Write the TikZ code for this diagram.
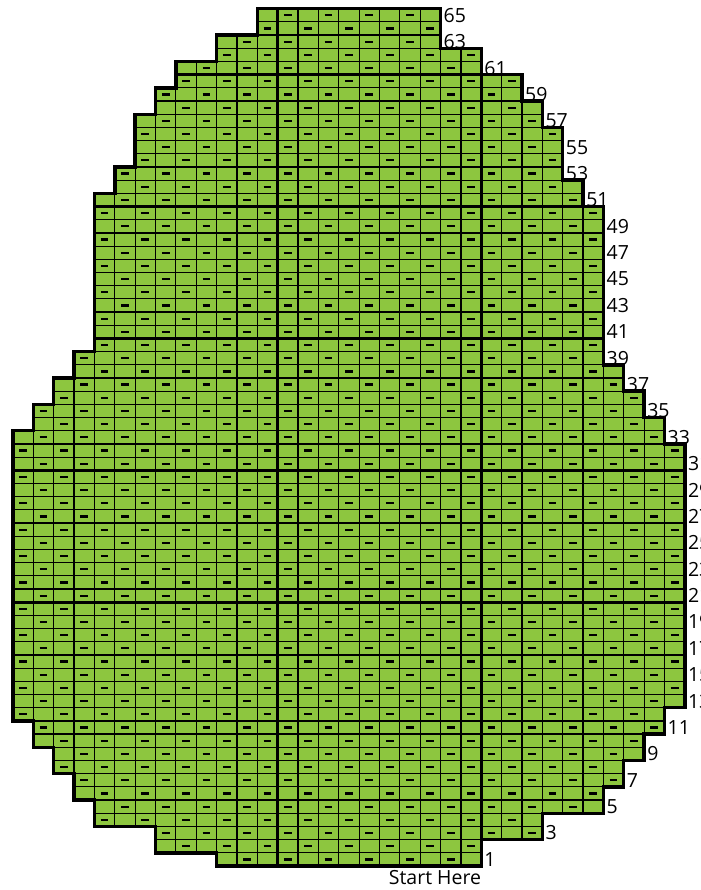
\documentclass[tikz,border=0pt]{standalone}
\usepackage{fontspec}
\setmainfont{Open Sans}
\usepackage{tikz}
\definecolor{chartgreen}{RGB}{141,198,63}
% outline of the chart, one unit = one stitch / one row
\newcommand{\chartshape}{(10,0) -- (23,0) |- (26,2) |- (29,4) |- (30,6)
  |- (31,8) |- (32,10) |- (33,12) |- (32,32) |- (31,34) |- (30,36)
  |- (29,38) |- (28,50) |- (27,52) |- (26,56) |- (25,58) |- (23,60)
  |- (21,62) |- (12,65) |- (10,63) |- (8,61) |- (7,59) |- (6,57)
  |- (5,53) |- (4,51) |- (3,39) |- (2,37) |- (1,35) |- (0,33)
  |- (1,11) |- (2,9) |- (3,7) |- (4,5) |- (7,3) |- (10,1) -- cycle}

\begin{document}
\begin{tikzpicture}[
  x=20.36pt, y=13.19pt,
  cellgrid/.style={line width=1.2pt, black},
  tengrid/.style={line width=2.6pt},
  border/.style={line width=3.4pt, line join=miter},
  purl/.style={line width=2.2pt},
  rowlabel/.style={anchor=west, inner sep=3pt,
               font=\fontsize{19.5}{22}\selectfont}
]
  \useasboundingbox (-0.639,-1.82) rectangle (33.79,65.66);

  \fill[chartgreen] \chartshape;
  \begin{scope}
    \clip \chartshape;
    \draw[cellgrid, step=1] (0,0) grid (33,65);
    % purl stitches
    \foreach \r in {1,...,65}
      \foreach \c in {0,...,32}{
        \ifodd\numexpr\r+\c\relax\else
          \draw[purl] (\c+0.31,\r-0.5) -- (\c+0.69,\r-0.5);
        \fi}
    % every tenth stitch and row
    \foreach \c in {3,13,23}
      \draw[tengrid] (\c,0) -- (\c,65);
    \foreach \r in {10,20,...,60}
      \draw[tengrid] (0,\r) -- (33,\r);
  \end{scope}
  \draw[border] \chartshape;

  % row numbers
  \foreach \r/\hi in {1/23, 3/26, 5/29, 7/30, 9/31, 11/32, 13/33, 15/33,
      17/33, 19/33, 21/33, 23/33, 25/33, 27/33, 29/33, 31/33, 33/32,
      35/31, 37/30, 39/29, 41/29, 43/29, 45/29, 47/29, 49/29, 51/28,
      53/27, 55/27, 57/26, 59/25, 61/23, 63/21, 65/21}
    \node[rowlabel] (row\r) at (\hi,\r-0.5) {\r};

  \node[anchor=north east, inner sep=0pt, yshift=-4pt,
        font=\fontsize{19.5}{22}\selectfont] (start) at (23,0) {Start Here};
\end{tikzpicture}
\end{document}
